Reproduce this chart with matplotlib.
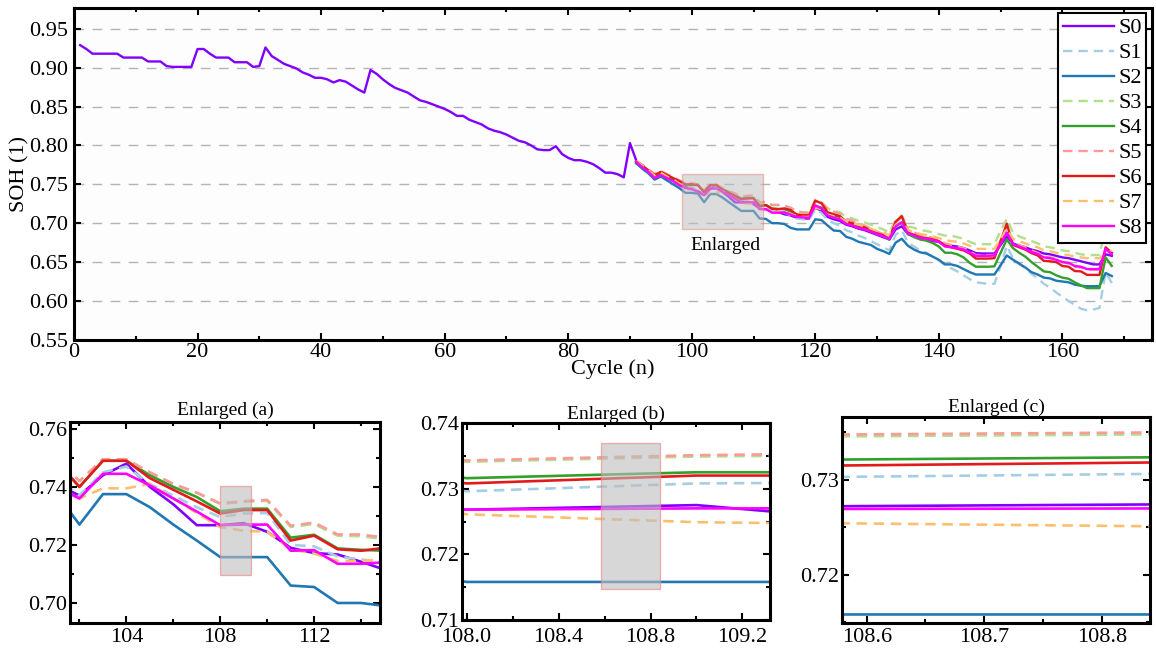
import numpy as np
import matplotlib
matplotlib.use("Agg")
import matplotlib.pyplot as plt
from matplotlib.patches import Rectangle
from matplotlib.ticker import MultipleLocator, FormatStrFormatter

plt.rcParams['font.family'] = ['Liberation Serif', 'DejaVu Serif']

# ---------------- data ----------------
# S0: cycles 1..168 ; S1..S8: cycles 91..168
s0_early = [0.929, 0.924, 0.918, 0.918, 0.918, 0.918, 0.918, 0.913, 0.913, 0.913,
            0.913, 0.908, 0.908, 0.908, 0.902, 0.901, 0.901, 0.901, 0.901, 0.924,
            0.924, 0.918, 0.913, 0.913, 0.913, 0.907, 0.907, 0.907, 0.901, 0.902,
            0.926, 0.915, 0.910, 0.905, 0.902, 0.899, 0.894, 0.891, 0.887, 0.887,
            0.885, 0.881, 0.884, 0.882, 0.877, 0.872, 0.868, 0.897, 0.892, 0.885,
            0.879, 0.874, 0.871, 0.868, 0.863, 0.858, 0.856, 0.853, 0.850, 0.847,
            0.843, 0.838, 0.838, 0.833, 0.830, 0.827, 0.822, 0.819, 0.817, 0.814,
            0.810, 0.806, 0.804, 0.800, 0.795, 0.794, 0.794, 0.799, 0.789, 0.784,
            0.781, 0.781, 0.779, 0.776, 0.771, 0.765, 0.765, 0.763, 0.759, 0.803]

s0_late = [0.781, 0.773, 0.766, 0.759, 0.763, 0.759, 0.755, 0.750, 0.746, 0.745,
           0.741, 0.737, 0.744, 0.748, 0.740, 0.734, 0.7268, 0.7268, 0.7275, 0.7245,
           0.7190, 0.7172, 0.7167, 0.7142, 0.7115, 0.7100, 0.7070, 0.7060, 0.7060, 0.7200,
           0.7160, 0.7080, 0.7050, 0.7030, 0.6980, 0.6960, 0.6930, 0.6910, 0.6880, 0.6850,
           0.6820, 0.6790, 0.6920, 0.6960, 0.6860, 0.6830, 0.6800, 0.6790, 0.6770, 0.6760,
           0.6720, 0.6710, 0.6700, 0.6680, 0.6650, 0.6615, 0.6610, 0.6610, 0.6610, 0.6720,
           0.6830, 0.6740, 0.6710, 0.6690, 0.6660, 0.6640, 0.6610, 0.6600, 0.6580, 0.6560,
           0.6550, 0.6530, 0.6510, 0.6490, 0.6470, 0.6470, 0.6600, 0.6580]

s1 = [0.778, 0.771, 0.765, 0.757, 0.761, 0.757, 0.752, 0.748, 0.744, 0.743,
      0.743, 0.737, 0.745, 0.747, 0.741, 0.737, 0.733, 0.7296, 0.7308, 0.7310,
      0.7200, 0.7195, 0.7160, 0.7150, 0.7140, 0.7100, 0.7060, 0.7050, 0.7040, 0.7180,
      0.7130, 0.7040, 0.7000, 0.6970, 0.6910, 0.6880, 0.6840, 0.6810, 0.6770, 0.6730,
      0.6690, 0.6650, 0.6850, 0.6910, 0.6750, 0.6700, 0.6650, 0.6620, 0.6570, 0.6520,
      0.6460, 0.6420, 0.6380, 0.6330, 0.6280, 0.6240, 0.6230, 0.6220, 0.6220, 0.6450,
      0.6710, 0.6550, 0.6480, 0.6420, 0.6350, 0.6290, 0.6220, 0.6170, 0.6110, 0.6050,
      0.6000, 0.5950, 0.5900, 0.5880, 0.5890, 0.5910, 0.6370, 0.6230]

s2 = [0.777, 0.770, 0.764, 0.756, 0.760, 0.755, 0.750, 0.745, 0.739, 0.739,
      0.738, 0.727, 0.7375, 0.7375, 0.733, 0.727, 0.7215, 0.7158, 0.7158, 0.7158,
      0.7060, 0.7055, 0.7000, 0.7000, 0.6990, 0.6940, 0.6920, 0.6920, 0.6920, 0.7050,
      0.7040, 0.6970, 0.6905, 0.6900, 0.6825, 0.6800, 0.6760, 0.6740, 0.6720, 0.6670,
      0.6640, 0.6605, 0.6750, 0.6800, 0.6710, 0.6660, 0.6625, 0.6610, 0.6570, 0.6530,
      0.6470, 0.6470, 0.6450, 0.6410, 0.6370, 0.6340, 0.6340, 0.6340, 0.6340, 0.6460,
      0.6585, 0.6530, 0.6480, 0.6430, 0.6370, 0.6340, 0.6300, 0.6290, 0.6260, 0.6250,
      0.6240, 0.6210, 0.6195, 0.6190, 0.6190, 0.6190, 0.6360, 0.6320]

s3 = [0.780, 0.775, 0.769, 0.763, 0.767, 0.763, 0.759, 0.755, 0.751, 0.751,
      0.750, 0.742, 0.7495, 0.7495, 0.745, 0.741, 0.738, 0.7341, 0.7349, 0.7352,
      0.7262, 0.7272, 0.7232, 0.7230, 0.7220, 0.7195, 0.7150, 0.7140, 0.7135, 0.7280,
      0.7260, 0.7190, 0.7160, 0.7140, 0.7080, 0.7060, 0.7030, 0.7010, 0.6980, 0.6950,
      0.6920, 0.6880, 0.7040, 0.7100, 0.6960, 0.6940, 0.6910, 0.6900, 0.6880, 0.6860,
      0.6840, 0.6840, 0.6820, 0.6800, 0.6760, 0.6730, 0.6730, 0.6730, 0.6730, 0.6900,
      0.7060, 0.6880, 0.6830, 0.6800, 0.6770, 0.6740, 0.6700, 0.6690, 0.6670, 0.6650,
      0.6640, 0.6620, 0.6600, 0.6590, 0.6590, 0.6590, 0.6950, 0.6680]

s4 = [0.779, 0.773, 0.767, 0.761, 0.765, 0.761, 0.757, 0.753, 0.749, 0.749,
      0.749, 0.740, 0.749, 0.749, 0.744, 0.740, 0.7365, 0.7316, 0.7325, 0.7325,
      0.7225, 0.7235, 0.7188, 0.7183, 0.7180, 0.7150, 0.7110, 0.7100, 0.7095, 0.7220,
      0.7200, 0.7120, 0.7100, 0.7080, 0.7010, 0.6985, 0.6960, 0.6930, 0.6895, 0.6860,
      0.6835, 0.6790, 0.6960, 0.7010, 0.6860, 0.6820, 0.6790, 0.6775, 0.6745, 0.6700,
      0.6620, 0.6620, 0.6600, 0.6560, 0.6490, 0.6440, 0.6440, 0.6440, 0.6445, 0.6620,
      0.6790, 0.6680, 0.6620, 0.6570, 0.6500, 0.6440, 0.6380, 0.6370, 0.6330, 0.6300,
      0.6285, 0.6240, 0.6200, 0.6165, 0.6165, 0.6165, 0.6560, 0.6450]

s5 = [0.780, 0.775, 0.769, 0.763, 0.767, 0.763, 0.759, 0.755, 0.751, 0.751,
      0.750, 0.742, 0.7495, 0.7495, 0.745, 0.741, 0.738, 0.7343, 0.7351, 0.7355,
      0.7266, 0.7277, 0.7236, 0.7236, 0.7225, 0.7200, 0.7150, 0.7140, 0.7130, 0.7300,
      0.7270, 0.7190, 0.7150, 0.7120, 0.7060, 0.7030, 0.7000, 0.6970, 0.6930, 0.6890,
      0.6860, 0.6820, 0.7010, 0.7080, 0.6920, 0.6880, 0.6850, 0.6830, 0.6810, 0.6790,
      0.6740, 0.6720, 0.6700, 0.6680, 0.6640, 0.6590, 0.6590, 0.6590, 0.6590, 0.6780,
      0.6960, 0.6760, 0.6720, 0.6690, 0.6650, 0.6620, 0.6570, 0.6560, 0.6540, 0.6500,
      0.6480, 0.6440, 0.6430, 0.6400, 0.6400, 0.6400, 0.6660, 0.6610]

s6 = [0.779, 0.774, 0.768, 0.762, 0.766, 0.762, 0.758, 0.754, 0.750, 0.750,
      0.749, 0.740, 0.749, 0.749, 0.743, 0.739, 0.735, 0.7308, 0.7320, 0.7320,
      0.7215, 0.7232, 0.7185, 0.7180, 0.7190, 0.7170, 0.7110, 0.7105, 0.7100, 0.7290,
      0.7256, 0.7140, 0.7115, 0.7090, 0.7020, 0.7000, 0.6970, 0.6945, 0.6905, 0.6870,
      0.6845, 0.6800, 0.7020, 0.7090, 0.6880, 0.6850, 0.6820, 0.6810, 0.6790, 0.6770,
      0.6710, 0.6690, 0.6670, 0.6650, 0.6610, 0.6545, 0.6545, 0.6545, 0.6550, 0.6770,
      0.6995, 0.6720, 0.6690, 0.6660, 0.6615, 0.6585, 0.6515, 0.6510, 0.6500, 0.6450,
      0.6440, 0.6385, 0.6380, 0.6335, 0.6335, 0.6335, 0.6690, 0.6620]

s7 = [0.780, 0.774, 0.768, 0.761, 0.765, 0.760, 0.756, 0.751, 0.747, 0.745,
      0.740, 0.736, 0.7395, 0.7395, 0.741, 0.736, 0.731, 0.7261, 0.7249, 0.7245,
      0.7185, 0.7170, 0.7145, 0.7145, 0.7150, 0.7120, 0.7090, 0.7080, 0.7080, 0.7200,
      0.7180, 0.7110, 0.7090, 0.7070, 0.7020, 0.7000, 0.6980, 0.6960, 0.6930, 0.6900,
      0.6880, 0.6850, 0.6980, 0.7020, 0.6910, 0.6890, 0.6860, 0.6850, 0.6830, 0.6810,
      0.6780, 0.6770, 0.6760, 0.6740, 0.6710, 0.6670, 0.6670, 0.6670, 0.6670, 0.6800,
      0.6930, 0.6800, 0.6770, 0.6740, 0.6710, 0.6690, 0.6650, 0.6640, 0.6620, 0.6600,
      0.6590, 0.6570, 0.6560, 0.6550, 0.6550, 0.6550, 0.6600, 0.6650]

s8 = [0.779, 0.772, 0.766, 0.758, 0.762, 0.758, 0.754, 0.749, 0.745, 0.744,
      0.740, 0.736, 0.7445, 0.7445, 0.7405, 0.736, 0.7315, 0.7268, 0.7270, 0.7270,
      0.7180, 0.7182, 0.7135, 0.7135, 0.7140, 0.7110, 0.7080, 0.7075, 0.7070, 0.7230,
      0.7190, 0.7100, 0.7070, 0.7050, 0.6990, 0.6970, 0.6940, 0.6920, 0.6890, 0.6860,
      0.6830, 0.6800, 0.6960, 0.7010, 0.6870, 0.6840, 0.6810, 0.6800, 0.6780, 0.6760,
      0.6700, 0.6690, 0.6680, 0.6660, 0.6620, 0.6580, 0.6580, 0.6580, 0.6585, 0.6730,
      0.6880, 0.6730, 0.6700, 0.6670, 0.6630, 0.6605, 0.6560, 0.6550, 0.6530, 0.6500,
      0.6490, 0.6450, 0.6440, 0.6410, 0.6410, 0.6410, 0.6670, 0.6600]

labels = ['S0', 'S1', 'S2', 'S3', 'S4', 'S5', 'S6', 'S7', 'S8']
colors = ['#8000ff', '#a6cee3', '#1f78b4', '#b2df8a', '#33a02c',
          '#fb9a99', '#e31a1c', '#fdbf6f', '#ff00ff']
dashed = [False, True, False, True, False, True, False, True, False]

cycles_all = np.arange(1, len(s0_early) + len(s0_late) + 1)
cycles_late = cycles_all[len(s0_early):]
series = [s0_early + s0_late, s1, s2, s3, s4, s5, s6, s7, s8]
xs = [cycles_all] + [cycles_late] * 8

# ---------------- figure ----------------
fig = plt.figure(figsize=(11.56, 6.51), dpi=100)
ax = fig.add_axes([0.064, 0.478, 0.9325, 0.510])
axa = fig.add_axes([0.0606, 0.043, 0.268, 0.309])
axb = fig.add_axes([0.3997, 0.0476, 0.2664, 0.3026])
axc = fig.add_axes([0.7284, 0.043, 0.2664, 0.3164])

def draw_lines(a, lw=1.6):
    hs = []
    for x, y, c, d, lab in zip(xs, series, colors, dashed, labels):
        kw = dict(color=c, lw=lw, label=lab)
        if d:
            kw['dashes'] = (4, 2.5)
        h, = a.plot(x, y, **kw)
        hs.append(h)
    return hs

def style(a, fs, xpad=3.5, ypad=2):
    for s in a.spines.values():
        s.set_linewidth(2.2)
        s.set_color('black')
    a.tick_params(which='both', direction='in', top=True, right=True,
                  labelsize=fs, width=1.5)
    a.tick_params(which='major', length=5)
    a.tick_params(which='minor', length=3)
    a.tick_params(axis='x', pad=xpad)
    a.tick_params(axis='y', pad=ypad)

# main axes
ax.set_facecolor('#fdfdfd')
handles = draw_lines(ax, lw=1.7)
ax.set_xlim(0, 174.5)
ax.set_ylim(0.55, 0.977)
ax.xaxis.set_major_locator(MultipleLocator(20))
ax.xaxis.set_minor_locator(MultipleLocator(10))
ax.yaxis.set_major_locator(MultipleLocator(0.05))
ax.yaxis.set_major_formatter(FormatStrFormatter('%.2f'))
ax.yaxis.grid(True, color='#b4b4b4', lw=1.0, dashes=(7, 6))
ax.set_axisbelow(True)
style(ax, 16, xpad=2, ypad=4)
ax.set_xlabel('Cycle (n)', fontsize=16, labelpad=-2)
ax.set_ylabel('SOH (1)', fontsize=16, labelpad=0)
ax.add_patch(Rectangle((98.5, 0.693), 13.0, 0.070, facecolor='#bdbdbd',
                       alpha=0.5, edgecolor='#f08080', lw=1.0, zorder=5))
ax.text(105.5, 0.671, 'Enlarged', fontsize=14, ha='center', va='center')
leg = ax.legend(handles=handles, loc='upper right', fontsize=16,
                frameon=True, fancybox=False, edgecolor='black',
                framealpha=1, borderaxespad=0.25, labelspacing=0.2,
                handlelength=2.3, handletextpad=0.2, borderpad=0.2)
leg.get_frame().set_linewidth(1.5)

# subplot (a)
draw_lines(axa, lw=1.9)
axa.set_xlim(101.6, 114.8)
axa.set_ylim(0.6931, 0.7624)
axa.xaxis.set_major_locator(MultipleLocator(4))
axa.xaxis.set_minor_locator(MultipleLocator(2))
axa.yaxis.set_major_locator(MultipleLocator(0.02))
axa.yaxis.set_minor_locator(MultipleLocator(0.01))
axa.yaxis.set_major_formatter(FormatStrFormatter('%.2f'))
style(axa, 16)
axa.set_title('Enlarged (a)', fontsize=14, pad=5)
axa.add_patch(Rectangle((108.0, 0.7097), 1.3, 0.0306, facecolor='#bdbdbd',
                        alpha=0.6, edgecolor='#f08080', lw=1.0, zorder=5))

# subplot (b)
draw_lines(axb, lw=1.9)
axb.set_xlim(107.98, 109.32)
axb.set_ylim(0.71, 0.74)
axb.xaxis.set_major_locator(MultipleLocator(0.4))
axb.xaxis.set_minor_locator(MultipleLocator(0.2))
axb.yaxis.set_major_locator(MultipleLocator(0.01))
axb.yaxis.set_minor_locator(MultipleLocator(0.005))
axb.xaxis.set_major_formatter(FormatStrFormatter('%.1f'))
axb.yaxis.set_major_formatter(FormatStrFormatter('%.2f'))
style(axb, 16, xpad=6)
axb.set_title('Enlarged (b)', fontsize=14, pad=3)
axb.add_patch(Rectangle((108.585, 0.7147), 0.258, 0.0222, facecolor='#bdbdbd',
                        alpha=0.6, edgecolor='#f08080', lw=1.0, zorder=5))

# subplot (c)
draw_lines(axc, lw=1.9)
axc.set_xlim(108.579, 108.841)
axc.set_ylim(0.7149, 0.7366)
axc.xaxis.set_major_locator(MultipleLocator(0.1))
axc.xaxis.set_minor_locator(MultipleLocator(0.05))
axc.yaxis.set_major_locator(MultipleLocator(0.01))
axc.yaxis.set_minor_locator(MultipleLocator(0.005))
axc.xaxis.set_major_formatter(FormatStrFormatter('%.1f'))
axc.yaxis.set_major_formatter(FormatStrFormatter('%.2f'))
style(axc, 16)
axc.set_title('Enlarged (c)', fontsize=14, pad=4)

fig.savefig('out.png', dpi=100)
